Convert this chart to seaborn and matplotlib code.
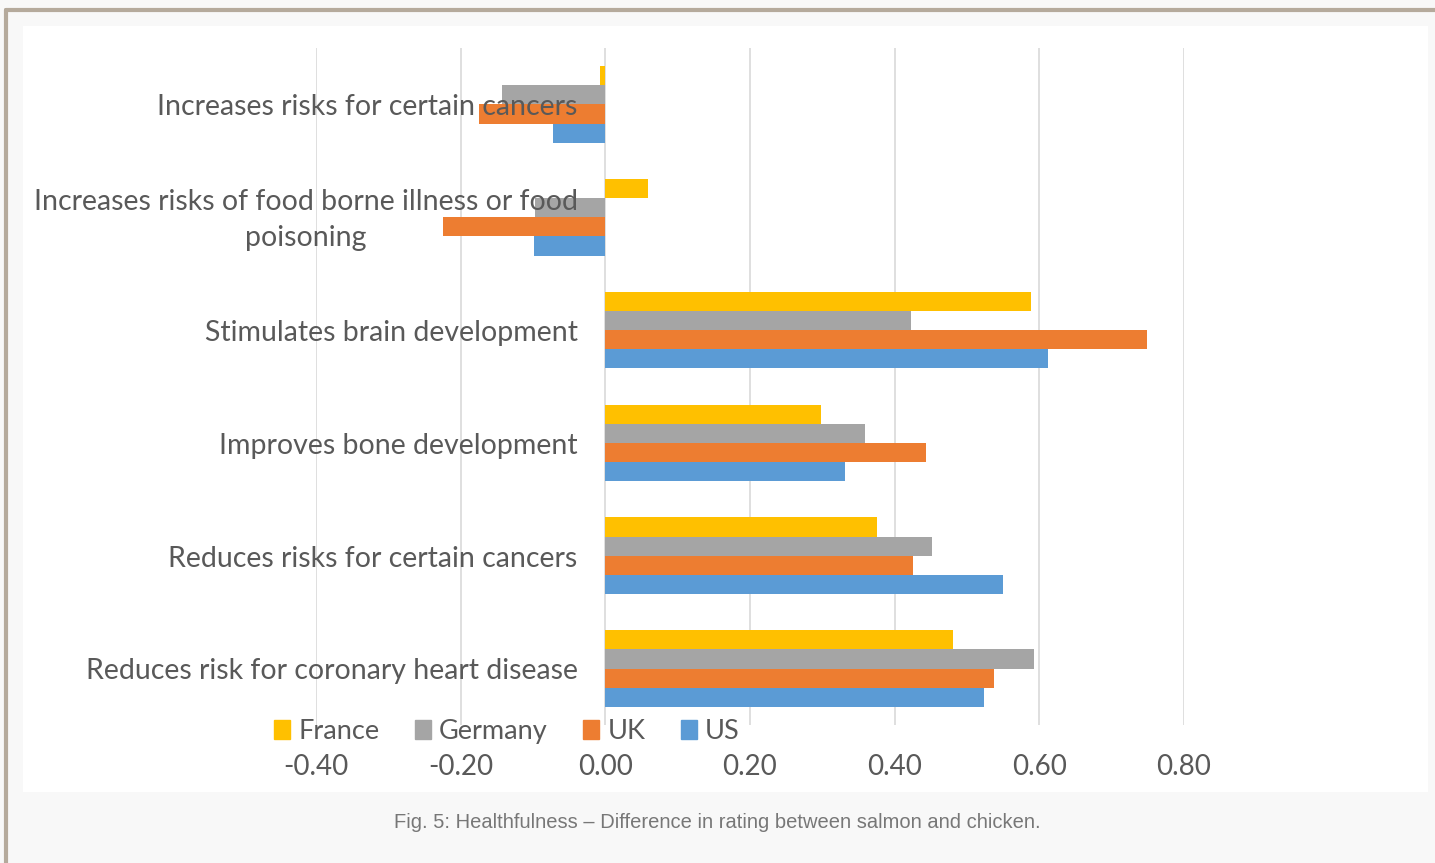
import pandas as pd
import matplotlib.pyplot as plt
import matplotlib.patches as mpatches
import seaborn as sns

# data
statements = [
    "Increases risks for certain cancers",
    "Increases risks of food borne illness or food\npoisoning",
    "Stimulates brain development",
    "Improves bone development",
    "Reduces risks for certain cancers",
    "Reduces risk for coronary heart disease",
]
countries = ["France", "Germany", "UK", "US"]
france = [-0.008, 0.059, 0.588, 0.298, 0.375, 0.480]
germany = [-0.143, -0.097, 0.422, 0.359, 0.451, 0.593]
uk = [-0.175, -0.225, 0.749, 0.443, 0.426, 0.537]
us = [-0.073, -0.098, 0.612, 0.331, 0.550, 0.524]
x_ticks = [-0.4, -0.2, 0.0, 0.2, 0.4, 0.6, 0.8]
colors = ["#FFC000", "#A5A5A5", "#ED7D31", "#5B9BD5"]

rows = []
for name, vals in zip(countries, [france, germany, uk, us]):
    for s, v in zip(statements, vals):
        rows.append({"Statement": s, "Country": name, "Value": v})
df = pd.DataFrame(rows)

sns.set_style("white")
plt.rcParams['font.family'] = ['Lato', 'DejaVu Sans']

fig = plt.figure(figsize=(14.35, 8.63), dpi=100, facecolor="#f8f8f8")
W, H = 1435, 863

# white chart panel and outer frame
panel = mpatches.Rectangle((23 / W, 1 - 792 / H), (1428 - 23) / W, (792 - 26) / H,
                           transform=fig.transFigure, facecolor="white",
                           edgecolor="none", zorder=-10)
fig.add_artist(panel)
fig.add_artist(plt.Line2D([6 / W, 6 / W], [0, 1 - 10 / H], transform=fig.transFigure,
                          color="#b5aa9c", lw=3))
fig.add_artist(plt.Line2D([6 / W, 1], [1 - 10 / H, 1 - 10 / H], transform=fig.transFigure,
                          color="#b5aa9c", lw=3))

ax = fig.add_axes([316 / W, 1 - 725 / H, (1184 - 316) / W, (725 - 48) / H])
ax.set_facecolor("none")
ax.set_zorder(1)

sns.barplot(data=df, y="Statement", x="Value", hue="Country", order=statements,
            hue_order=countries, palette=colors, orient="h", width=0.68,
            saturation=1, ax=ax, legend=False, zorder=1, linewidth=0)

ax.set_xlim(-0.4, 0.8)
ax.set_ylim(5.5, -0.5)
ax.set_xticks(x_ticks)
ax.set_xticklabels([f"{t:.2f}" for t in x_ticks])
ax.grid(False)
for t in x_ticks:
    ax.axvline(t, color="#d9d9d9", lw=1.2, zorder=0)
ax.set_axisbelow(False)
for side in ["top", "right", "bottom", "left"]:
    ax.spines[side].set_visible(False)
ax.set_xlabel("")
ax.set_ylabel("")
ax.tick_params(axis="x", length=0, pad=21, labelsize=20, labelcolor="#595959")

# category labels sit just left of the zero line, on top of the bars
ax.set_yticks(range(len(statements)))
ax.set_yticklabels([])
ax.tick_params(axis="y", length=0)
for i, s in enumerate(statements):
    ax.annotate(s, xy=(0, i), xycoords="data", xytext=(-20, -2), textcoords="offset points",
                ha="right", va="center", multialignment="center", linespacing=1.5,
                fontsize=20.5, color="#595959", zorder=5, annotation_clip=False)

handles = [mpatches.Patch(color=c, label=n) for c, n in zip(colors, countries)]
leg = fig.legend(handles=handles, loc="center", bbox_to_anchor=(507 / W, 1 - 731 / H),
                 ncol=4, frameon=False, fontsize=19.5, handlelength=0.6, handleheight=0.7,
                 handletextpad=0.3, columnspacing=1.3)
for t in leg.get_texts():
    t.set_color("#595959")

fig.text(0.5, 1 - 822 / H,
         "Fig. 5: Healthfulness \u2013 Difference in rating between salmon and chicken.",
         ha="center", va="center", fontsize=14.5, color="#777777",
         family=["Liberation Sans", "DejaVu Sans"])

fig.savefig("out.png", dpi=100, facecolor=fig.get_facecolor())
